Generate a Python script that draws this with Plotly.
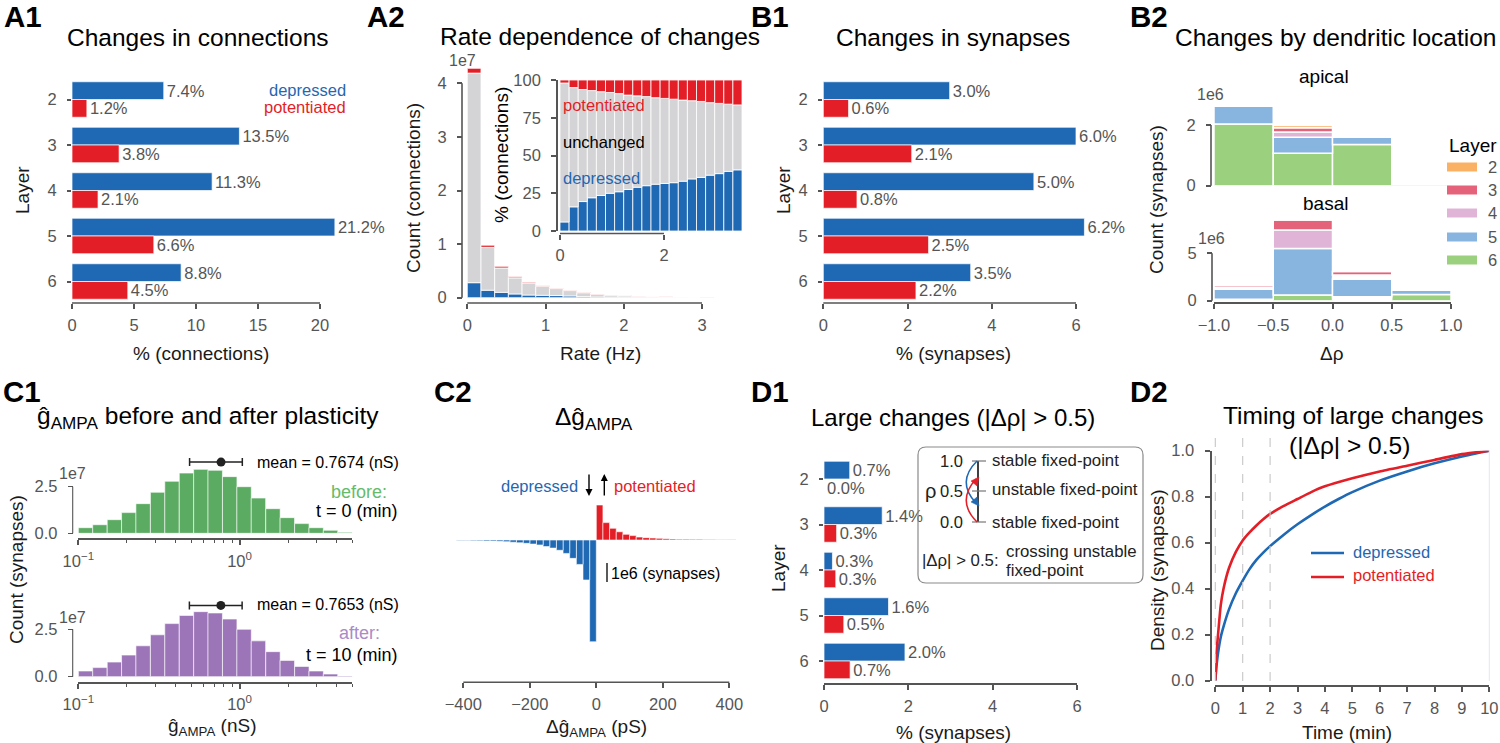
import math
import plotly.graph_objects as go

W, H = 1500, 743
FONT = "Liberation Sans"
BLUE = "#1f68b3"
RED = "#e31e26"
GREY = "#d4d4d6"
AXIS = "#555555"
TEXT = "#1a1a1a"
TITLE = 24.5
LABEL = 19
SMALL = 16.5

layers = [2, 3, 4, 5, 6]

# A1 / B1 / D1 bars
conn_dep = [7.4, 13.5, 11.3, 21.2, 8.8]
conn_pot = [1.2, 3.8, 2.1, 6.6, 4.5]
syn_dep = [3.0, 6.0, 5.0, 6.2, 3.5]
syn_pot = [0.6, 2.1, 0.8, 2.5, 2.2]
large_dep = [0.61, 1.38, 0.2, 1.53, 1.92]
large_pot = [0.0, 0.3, 0.28, 0.47, 0.62]
large_dep_labels = ["0.7%", "1.4%", "0.3%", "1.6%", "2.0%"]
large_pot_labels = ["0.0%", "0.3%", "0.3%", "0.5%", "0.7%"]

# A2 counts (1e7) and percentages per rate bin
rate_bins = [0.0875, 0.2625, 0.4375, 0.6125, 0.7875, 0.9625, 1.1375, 1.3125, 1.4875, 1.6625,
             1.8375, 2.0125, 2.1875, 2.3625, 2.5375, 2.7125, 2.8875, 3.0625, 3.2375, 3.4125]
count_dep = [0.28, 0.14, 0.10, 0.07, 0.05, 0.045, 0.04, 0.033, 0.02, 0.013,
             0.01, 0.008, 0.006, 0.005, 0.004, 0.003, 0.002, 0.002, 0.001, 0.001]
count_unch = [3.91, 0.80, 0.455, 0.30, 0.225, 0.168, 0.13, 0.10, 0.073, 0.052,
              0.035, 0.028, 0.02, 0.015, 0.01, 0.008, 0.006, 0.004, 0.003, 0.002]
count_pot = [0.09, 0.04, 0.03, 0.02, 0.015, 0.012, 0.01, 0.01, 0.007, 0.005,
             0.005, 0.004, 0.004, 0.002, 0.002, 0.001, 0.001, 0.001, 0.001, 0.0]
pct_dep = [6, 16, 19.5, 22, 23.5, 25, 26, 27.5, 29, 30,
           31, 31.5, 32, 33, 34.5, 35.5, 37, 38, 39.5, 40.5]
pct_unch = [92, 79, 74.2, 71, 68.8, 66.7, 65, 62.5, 60.5, 59,
            57.3, 56.3, 55.3, 53.7, 51.8, 50.3, 48, 46.5, 44.5, 43]
pct_pot = [2, 5, 6.3, 7, 7.7, 8.3, 9, 10, 10.5, 11,
           11.7, 12.2, 12.7, 13.3, 13.7, 14.2, 15, 15.5, 16, 16.5]

# B2 stacks (1e6), bottom layer first
rho_bins = [-0.75, -0.25, 0.25, 0.75]
apical = {6: [2.03, 1.07, 1.36, 0.06], 5: [0.6, 0.53, 0.24, 0.0], 4: [0.0, 0.17, 0.0, 0.0],
          3: [0.0, 0.14, 0.0, 0.0], 2: [0.0, 0.07, 0.0, 0.0]}
basal = {6: [0.15, 0.6, 0.42, 0.65], 5: [1.05, 4.9, 1.85, 0.45], 4: [0.2, 1.96, 0.45, 0.0],
         3: [0.2, 1.06, 0.35, 0.0], 2: [0.0, 0.0, 0.0, 0.0]}
basal_shown = {6: [0, 1, 0, 1], 5: [1, 1, 1, 1], 4: [0, 1, 0, 1], 3: [1, 1, 1, 1], 2: [1, 1, 1, 1]}
layer_colors = {2: "#fbb163", 3: "#e4637a", 4: "#e0b4d6", 5: "#88b4e0", 6: "#9bd07f"}

# C1 histograms (1e7) on log10 bins
log_bins = [-0.955, -0.866, -0.776, -0.687, -0.598, -0.508, -0.419, -0.329, -0.240, -0.151,
            -0.061, 0.028, 0.117, 0.207, 0.296, 0.386, 0.475, 0.564, 0.654]
g_before = [0.30, 0.46, 0.73, 1.11, 1.59, 2.2, 2.79, 3.23, 3.43, 3.38,
            3.04, 2.5, 1.89, 1.32, 0.84, 0.52, 0.30, 0.16, 0.05]
g_after = [0.30, 0.48, 0.77, 1.14, 1.63, 2.21, 2.8, 3.23, 3.43, 3.36,
           3.04, 2.5, 1.89, 1.32, 0.86, 0.54, 0.30, 0.14, 0.04]
log_ticks_minor = [-0.699, -0.523, -0.398, -0.301, -0.222, -0.155, -0.097, -0.046,
                   0.301, 0.477, 0.602, 0.699]

# C2 histogram (1e6)
dg_dep_bins = [-10, -30, -50, -70, -90, -110, -130, -150, -170, -190, -210,
               -230, -250, -270, -290, -310, -330, -350, -370, -390, -410]
dg_dep = [-5.55, -2.18, -1.33, -1.0, -0.73, -0.56, -0.44, -0.36, -0.27, -0.22, -0.18,
          -0.15, -0.12, -0.09, -0.07, -0.06, -0.055, -0.045, -0.036, -0.03, -0.02]
dg_pot_bins = [10, 30, 50, 70, 90, 110, 130, 150, 170, 190, 210,
               230, 250, 270, 290, 310, 330, 350, 370, 390, 410]
dg_pot = [1.91, 0.95, 0.64, 0.45, 0.31, 0.24, 0.16, 0.13, 0.11, 0.09, 0.07,
          0.055, 0.045, 0.045, 0.036, 0.036, 0.027, 0.027, 0.018, 0.018, 0.01]

# D2 curves
t_dep = [0, 0.05, 0.1, 0.2, 0.3, 0.5, 0.75, 1, 1.25, 1.5, 1.75, 2, 2.5, 3, 3.5, 4, 4.5, 5, 6, 7, 8, 9, 10]
dens_dep = [0, 0.07, 0.12, 0.19, 0.235, 0.31, 0.38, 0.435, 0.485, 0.525, 0.557, 0.585, 0.635, 0.68, 0.72,
            0.757, 0.79, 0.82, 0.87, 0.91, 0.945, 0.975, 1.0]
t_pot = [0, 0.05, 0.1, 0.2, 0.3, 0.5, 0.75, 1, 1.25, 1.5, 1.75, 2, 2.5, 3, 3.5, 4, 5, 6, 7, 8, 9, 10]
dens_pot = [0, 0.13, 0.2, 0.33, 0.4, 0.49, 0.56, 0.61, 0.645, 0.675, 0.702, 0.725, 0.76, 0.79, 0.82,
            0.845, 0.88, 0.91, 0.935, 0.96, 0.985, 1.0]

fig = go.Figure()
notes = []
shapes = []


def px(x):
    return x / W


def py(y):
    return 1 - y / H


def txt(x, y, s, size=LABEL, color=TEXT, anchor="center", angle=0, bold=False):
    if bold:
        s = "<b>" + s + "</b>"
    notes.append(dict(x=px(x), y=py(y), xref="paper", yref="paper", text=s, showarrow=False,
                      xanchor=anchor, yanchor="middle", textangle=angle, borderpad=0, borderwidth=0,
                      font=dict(family=FONT, size=size, color=color)))


def line(x0, y0, x1, y1, color=AXIS, width=1.5, dash="solid"):
    shapes.append(dict(type="line", xref="paper", yref="paper", x0=px(x0), y0=py(y0), x1=px(x1), y1=py(y1),
                       line=dict(color=color, width=width, dash=dash)))


def path(points, color, width=1.5, fill=None):
    shapes.append(dict(type="path", xref="paper", yref="paper", path=points,
                       fillcolor=fill or "rgba(0,0,0,0)", line=dict(color=color, width=width)))


def P(x, y):
    return f"{px(x):.5f},{py(y):.5f}"


# box is the pixel rect of xr/yr; xext/yext widen the subplot so bars can pass the trimmed spine
def add_axes(n, box, xr, yr, x_at=None, y_at=None, xopts=None, yopts=None, xext=None, yext=None):
    x0, x1, y0, y1 = box
    base = dict(showgrid=False, zeroline=False, showline=True, linecolor=AXIS, linewidth=1.6,
                ticks="outside", ticklen=5, tickwidth=1.5, tickcolor=AXIS,
                tickfont=dict(family=FONT, size=SMALL, color=AXIS))
    dx0, dx1, dy0, dy1 = x0, x1, y0, y1
    if xext:
        sx = (x1 - x0) / (xr[1] - xr[0])
        dx0 = x0 + (xext[0] - xr[0]) * sx
        dx1 = x1 + (xext[1] - xr[1]) * sx
    if yext:
        sy = (y1 - y0) / (yr[1] - yr[0])
        dy0 = y0 - (yext[1] - yr[1]) * sy
        dy1 = y1 + (yr[0] - yext[0]) * sy
    xa = dict(base, domain=[px(dx0), px(dx1)], range=xext or xr, anchor=f"y{n}", ticklabelstandoff=2)
    ya = dict(base, domain=[py(dy1), py(dy0)], range=yext or yr, anchor=f"x{n}", ticklabelstandoff=7)
    if x_at is not None:
        xa.update(anchor="free", position=py(x_at))
    if y_at is not None:
        ya.update(anchor="free", position=px(y_at))
    if xext:
        xa.update(showline=False)
        line(x0, x_at, x1, x_at, AXIS, 1.6)
    if yext:
        line(y_at, y0, y_at, y1, AXIS, (yopts or {}).get("linewidth", 1.6))
    xa.update(xopts or {})
    ya.update(yopts or {})
    if yext:
        ya.update(showline=False)
    fig.layout[f"xaxis{n}"] = xa
    fig.layout[f"yaxis{n}"] = ya


def layer_bars(n, dep, pot, dep_text, pot_text):
    for vals, labels, color, off in [(dep, dep_text, BLUE, -0.39), (pot, pot_text, RED, 0.0)]:
        fig.add_trace(go.Bar(y=layers, x=vals, orientation="h", width=0.39, offset=off,
                             marker=dict(color=color, line=dict(color="rgba(255,255,255,0.7)", width=1)),
                             text=labels, textposition="outside", cliponaxis=False, constraintext="none",
                             textfont=dict(family=FONT, size=SMALL, color=AXIS),
                             xaxis=f"x{n}", yaxis=f"y{n}", showlegend=False))


def stack_bars(n, x, stacks, colors, width, edge=0.8, opac=None):
    bottom = [0.0] * len(x)
    for i, vals in enumerate(stacks):
        fig.add_trace(go.Bar(x=x, y=vals, base=list(bottom), width=width,
                             marker=dict(color=colors[i], opacity=opac[i] if opac else 1,
                                         line=dict(color="white", width=edge)),
                             cliponaxis=False, xaxis=f"x{n}", yaxis=f"y{n}", showlegend=False))
        bottom = [a + b for a, b in zip(bottom, vals)]


def pct(vals):
    return [f"{v:.1f}%" for v in vals]


row_y = dict(tickmode="array", tickvals=layers, ticktext=[str(v) for v in layers], showline=False, ticklen=4)

# A1
add_axes(1, (72, 320, 76.75, 304.25), [0, 20], [6.5, 1.5], x_at=303, y_at=71, xext=[0, 23],
         xopts=dict(tickvals=[0, 5, 10, 15, 20]), yopts=row_y)
layer_bars(1, conn_dep, conn_pot, pct(conn_dep), pct(conn_pot))
txt(198, 37, "Changes in connections", TITLE, "black")
txt(346, 90, "depressed", SMALL, BLUE, "right")
txt(346, 107, "potentiated", SMALL, RED, "right")
txt(22, 190, "Layer", LABEL, TEXT, angle=-90)
txt(201, 353, "% (connections)", LABEL)

# A2 main
add_axes(2, (467.3, 702, 83.3, 297.7), [0, 3], [0, 4], x_at=303, y_at=462, xext=[0, 3.6], yext=[0, 4.4],
         xopts=dict(tickvals=[0, 1, 2, 3]), yopts=dict(tickvals=[0, 1, 2, 3, 4]))
stack_bars(2, rate_bins, [count_dep, count_unch, count_pot], [BLUE, GREY, RED], 0.175)
txt(600, 36, "Rate dependence of changes", TITLE, "black")
txt(462, 60, "1e7", 16, AXIS)
txt(413, 188, "Count (connections)", LABEL, TEXT, angle=-90)
txt(600, 353, "Rate (Hz)", LABEL)

# A2 inset
add_axes(3, (560, 664, 80, 231), [0, 2], [0, 100], x_at=233.5, y_at=557, xext=[0, 3.55],
         xopts=dict(tickvals=[0, 2]), yopts=dict(tickvals=[0, 25, 50, 75, 100]))
stack_bars(3, rate_bins, [pct_dep, pct_unch, pct_pot], [BLUE, GREY, RED], 0.175)
txt(501, 155, "% (connections)", LABEL, "black", angle=-90)
txt(563, 105, "potentiated", SMALL, RED, "left")
txt(563, 142, "unchanged", SMALL, "black", "left")
txt(563, 178, "depressed", SMALL, BLUE, "left")

# B1
add_axes(4, (823.3, 1076, 76.75, 304.25), [0, 6], [6.5, 1.5], x_at=303, y_at=822, xext=[0, 6.4],
         xopts=dict(tickvals=[0, 2, 4, 6]), yopts=row_y)
layer_bars(4, syn_dep, syn_pot, pct(syn_dep), pct(syn_pot))
txt(953, 38, "Changes in synapses", TITLE, "black")
txt(783, 190, "Layer", LABEL, TEXT, angle=-90)
txt(953, 353, "% (synapses)", LABEL)

# B2 apical and basal
add_axes(5, (1214, 1451, 125, 185.7), [-1, 1], [0, 2], y_at=1211, yext=[0, 2.8],
         xopts=dict(visible=False), yopts=dict(tickvals=[0, 2]))
stack_bars(5, rho_bins, [apical[k] for k in (6, 5, 4, 3, 2)], [layer_colors[k] for k in (6, 5, 4, 3, 2)], 0.5, 1.5)
add_axes(6, (1214, 1451, 253.3, 300.7), [-1, 1], [0, 5], x_at=303, y_at=1212, yext=[0, 9],
         xopts=dict(tickvals=[-1, -0.5, 0, 0.5, 1], tickformat=".1f"), yopts=dict(tickvals=[0, 5]))
stack_bars(6, rho_bins, [basal[k] for k in (6, 5, 4, 3, 2)], [layer_colors[k] for k in (6, 5, 4, 3, 2)], 0.5, 1.5,
           opac=[basal_shown[k] for k in (6, 5, 4, 3, 2)])
txt(1335, 37, "Changes by dendritic location", TITLE, "black")
txt(1324, 77, "apical", LABEL, "black")
txt(1325, 204, "basal", LABEL, "black")
txt(1210, 94, "1e6", 16, AXIS)
txt(1211, 238, "1e6", 16, AXIS)
txt(1156, 200, "Count (synapses)", LABEL, TEXT, angle=-90)
txt(1332, 353, "Δρ", LABEL)
txt(1473, 146, "Layer", LABEL, "black")
for k, y in zip(layers, [167, 190, 213, 237, 260]):
    shapes.append(dict(type="rect", xref="paper", yref="paper", x0=px(1447), x1=px(1477), y0=py(y + 4.5), y1=py(y - 4.5),
                       fillcolor=layer_colors[k], line=dict(width=0)))
    txt(1488, y, str(k), SMALL, AXIS, "left")

# C1
hist_x = dict(tickmode="array", tickvals=[-1, 0], ticktext=["10<sup>−1</sup>", "10<sup>0</sup>"],
              minor=dict(tickmode="array", tickvals=log_ticks_minor, ticks="outside", ticklen=3,
                         tickwidth=1.2, tickcolor=AXIS))
hist_y = dict(tickmode="array", tickvals=[0, 2.5], ticktext=["0.0", "2.5"], linewidth=1.1, tickwidth=1.1)
panels = [(7, 486.7, 533.3, 539, g_before, "#5bab62", 3.82, "0.7674", 462),
          (8, 629.3, 676.7, 682.7, g_after, "#9c75b8", 3.76, "0.7653", 604)]
for n, y0, y1, axis_y, vals, color, err_y, mean_text, mean_y in panels:
    add_axes(n, (78.3, 352.3, y0, y1), [-1, 0.699], [0, 2.5], x_at=axis_y, y_at=72.7, yext=[0, 4.2],
             xopts=hist_x, yopts=hist_y)
    fig.add_trace(go.Bar(x=log_bins, y=vals, width=0.0894, cliponaxis=False, showlegend=False,
                         marker=dict(color=color, line=dict(color="rgba(255,255,255,0.6)", width=1)),
                         xaxis=f"x{n}", yaxis=f"y{n}"))
    centre = math.log10(float(mean_text))
    fig.add_trace(go.Scatter(x=[centre], y=[err_y], mode="markers", cliponaxis=False, showlegend=False,
                             marker=dict(color="#222222", size=9),
                             error_x=dict(type="data", symmetric=False, array=[0.132], arrayminus=[0.195],
                                          color="#222222", thickness=1.5, width=4),
                             xaxis=f"x{n}", yaxis=f"y{n}"))
    txt(257, mean_y, f"mean = {mean_text} (nS)", 16, "black", "left")
txt(208, 417, "ĝ<sub>AMPA</sub> before and after plasticity", TITLE, "black")
txt(72, 473, "1e7", 16, AXIS)
txt(72, 617, "1e7", 16, AXIS)
txt(359, 492, "before:", 18, "#66bb6a")
txt(398, 511, "t = 0 (min)", 18, "black", "right")
txt(359, 633, "after:", 18, "#a98bc8")
txt(398, 655, "t = 10 (min)", 18, "black", "right")
txt(16, 570, "Count (synapses)", LABEL, TEXT, angle=-90)
txt(212, 727, "ĝ<sub>AMPA</sub> (nS)", LABEL)

# C2
add_axes(9, (463.3, 729.3, 450, 682.3), [-400, 400], [-7.76, 4.91], x_at=682.3, xext=[-425, 425],
         xopts=dict(tickvals=[-400, -200, 0, 200, 400]), yopts=dict(visible=False))
for x_vals, y_vals, color in [(dg_dep_bins, dg_dep, BLUE), (dg_pot_bins, dg_pot, RED)]:
    fig.add_trace(go.Bar(x=x_vals, y=y_vals, width=20, cliponaxis=False, showlegend=False,
                         marker=dict(color=color, line=dict(color="white", width=0.6)),
                         xaxis="x9", yaxis="y9"))
txt(594, 418, "Δĝ<sub>AMPA</sub>", TITLE, "black")
txt(578, 486, "depressed", SMALL, BLUE, "right")
txt(614, 486, "potentiated", SMALL, RED, "left")
for x, y_tail, y_head in [(589, 473, 496), (604.3, 497, 474)]:
    notes.append(dict(x=px(x), y=py(y_head), xref="paper", yref="paper", ax=0, ay=y_tail - y_head,
                      axref="pixel", ayref="pixel", text="", showarrow=True, arrowhead=2, arrowsize=1,
                      arrowwidth=1.4, arrowcolor="black"))
line(607, 563, 607, 582, "black", 1.3)
txt(611, 573, "1e6 (synapses)", 16, "black", "left")
txt(596, 728, "Δĝ<sub>AMPA</sub> (pS)", LABEL)

# D1
add_axes(10, (824, 1077, 456.25, 683.75), [0, 6], [6.5, 1.5], x_at=684, y_at=823,
         xopts=dict(tickvals=[0, 2, 4, 6]), yopts=row_y)
layer_bars(10, large_dep, large_pot, large_dep_labels, large_pot_labels)
txt(953, 417, "Large changes (|Δρ| > 0.5)", 24, "black")
txt(778, 568, "Layer", LABEL, TEXT, angle=-90)
txt(953, 732, "% (synapses)", LABEL)

# D1 inset box
l, r, t, b, c = 918, 1143, 447, 583, 8
path(f"M {P(l + c, t)} L {P(r - c, t)} Q {P(r, t)} {P(r, t + c)} L {P(r, b - c)} Q {P(r, b)} {P(r - c, b)} "
     f"L {P(l + c, b)} Q {P(l, b)} {P(l, b - c)} L {P(l, t + c)} Q {P(l, t)} {P(l + c, t)} Z", "#8a8a8a", 1.2)
line(978, 461, 978, 522, "black", 1.5)
for y, label in [(461, "1.0"), (491, "0.5"), (522, "0.0")]:
    line(972, y, 986, y, "#777777", 1.2)
    txt(963, y, label, SMALL, "#222222", "right")
txt(930, 491, "ρ", 20, "#222222")
path(f"M {P(977, 461)} Q {P(956, 482)} {P(976, 503)}", BLUE, 1.5)
path(f"M {P(971, 502)} L {P(979, 506)} L {P(977, 497)} Z", BLUE, 0.5, BLUE)
path(f"M {P(977, 522)} Q {P(956, 501)} {P(976, 479)}", RED, 1.5)
path(f"M {P(971, 481)} L {P(979, 477)} L {P(977, 486)} Z", RED, 0.5, RED)
txt(992, 460, "stable fixed-point", 16.8, "#222222", "left")
txt(992, 490, "unstable fixed-point", 16.8, "#222222", "left")
txt(992, 522, "stable fixed-point", 16.8, "#222222", "left")
txt(922, 560, "|Δρ| > 0.5:", 16.8, "#222222", "left")
txt(1006, 551, "crossing unstable", 16.8, "#222222", "left")
txt(1006, 570, "fixed-point", 16.8, "#222222", "left")

# D2
add_axes(11, (1215.3, 1489.3, 450.7, 680.7), [0, 10], [0, 1], x_at=686, y_at=1210.7,
         xopts=dict(tickvals=list(range(11))),
         yopts=dict(tickvals=[0, 0.2, 0.4, 0.6, 0.8, 1.0], tickformat=".1f", linewidth=2.2))
for x_vals, y_vals, color in [(t_dep, dens_dep, BLUE), (t_pot, dens_pot, RED)]:
    fig.add_trace(go.Scatter(x=x_vals, y=y_vals, mode="lines", line=dict(color=color, width=2.6, shape="spline", smoothing=0.5),
                             cliponaxis=False, showlegend=False, xaxis="x11", yaxis="y11"))
for x in [1215.3, 1242.7, 1270.1]:
    line(x, 438, x, 681, "#c6c6c6", 1.1, "dash")
line(1489.3, 450, 1489.3, 681, "#e4e6ee", 1)
line(1311, 553, 1344, 553, BLUE, 2.4)
line(1311, 577, 1344, 577, RED, 2.4)
txt(1353, 552, "depressed", SMALL, BLUE, "left")
txt(1353, 575, "potentiated", SMALL, RED, "left")
txt(1353, 415, "Timing of large changes", TITLE, "black")
txt(1349, 445, "(|Δρ| > 0.5)", TITLE, "black")
txt(1157, 570, "Density (synapses)", LABEL, TEXT, angle=-90)
txt(1347, 732, "Time (min)", LABEL)

# panel letters
for s, x, y in [("A1", 4, 16.5), ("A2", 367, 16.5), ("B1", 751, 16.5), ("B2", 1130, 16.5),
                ("C1", 3, 391), ("C2", 434, 391), ("D1", 751, 391), ("D2", 1130, 391)]:
    txt(x, y, s, 29.5, "black", "left", bold=True)

fig.update_layout(width=W, height=H, margin=dict(l=0, r=0, t=0, b=0, autoexpand=False), barmode="overlay",
                  plot_bgcolor="rgba(0,0,0,0)", paper_bgcolor="white", annotations=notes, shapes=shapes,
                  font=dict(family=FONT))

fig.write_html("out.html", config={"displayModeBar": False}, post_script="document.body.style.margin = '0';")
